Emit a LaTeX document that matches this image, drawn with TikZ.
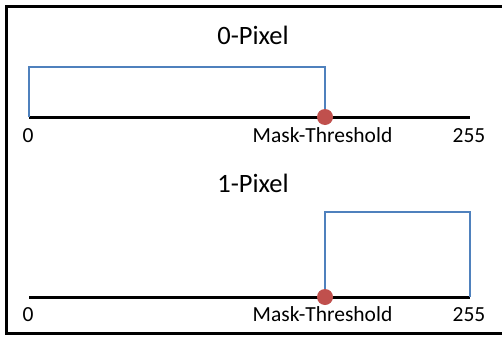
\documentclass[tikz,border=0pt]{standalone}
\usepackage{fontspec}
\setmainfont{Carlito}
\usepackage{tikz}
\definecolor{officeBlue}{RGB}{79,129,189}
\definecolor{officeRed}{RGB}{192,80,77}

\tikzset{
    axisline/.style={line width=3pt, black},
    pixrange/.style={line width=1.6pt, officeBlue},
    thresh/.style={circle, fill=officeRed, inner sep=0pt, minimum size=16pt},
    lbl/.style={anchor=base, inner sep=0pt, font=\fontsize{21.5}{25}\selectfont},
    ttl/.style={anchor=base, inner sep=0pt, font=\fontsize{26.5}{30}\selectfont}
}

\begin{document}
\begin{tikzpicture}[x=1pt,y=-1pt]
        \useasboundingbox (0,0) rectangle (502,337);
        % frame (right side lies outside the picture)
        \draw[line width=3pt] (502,6.5) -- (6.5,6.5) -- (6.5,333.5) -- (502,333.5);

        % 0-Pixel
        \node[ttl] (titleA) at (253,45) {0-Pixel};
        \coordinate (zeroA) at (29,117);
        \coordinate (endA) at (470,117);
        \coordinate (threshPtA) at (325,117);
        \draw[axisline] (zeroA) -- (endA);
        \draw[pixrange] (zeroA) -- ++(0,-50) -| (threshPtA);
        \node[thresh] (threshA) at (threshPtA) {};
        \node[lbl] (zeroLblA) at (28,142) {0};
        \node[lbl] (threshLblA) at (322.5,142) {Mask-Threshold};
        \node[lbl] (endLblA) at (469,142) {255};

        % 1-Pixel
        \node[ttl] (titleB) at (253,192) {1-Pixel};
        \coordinate (zeroB) at (29,297);
        \coordinate (endB) at (470,297);
        \coordinate (threshPtB) at (325,297);
        \draw[axisline] (zeroB) -- (endB);
        \draw[pixrange] (threshPtB) -- ++(0,-85) -| (endB);
        \node[thresh] (threshB) at (threshPtB) {};
        \node[lbl] (zeroLblB) at (28,321) {0};
        \node[lbl] (threshLblB) at (322.5,321) {Mask-Threshold};
        \node[lbl] (endLblB) at (469,321) {255};
\end{tikzpicture}
\end{document}
